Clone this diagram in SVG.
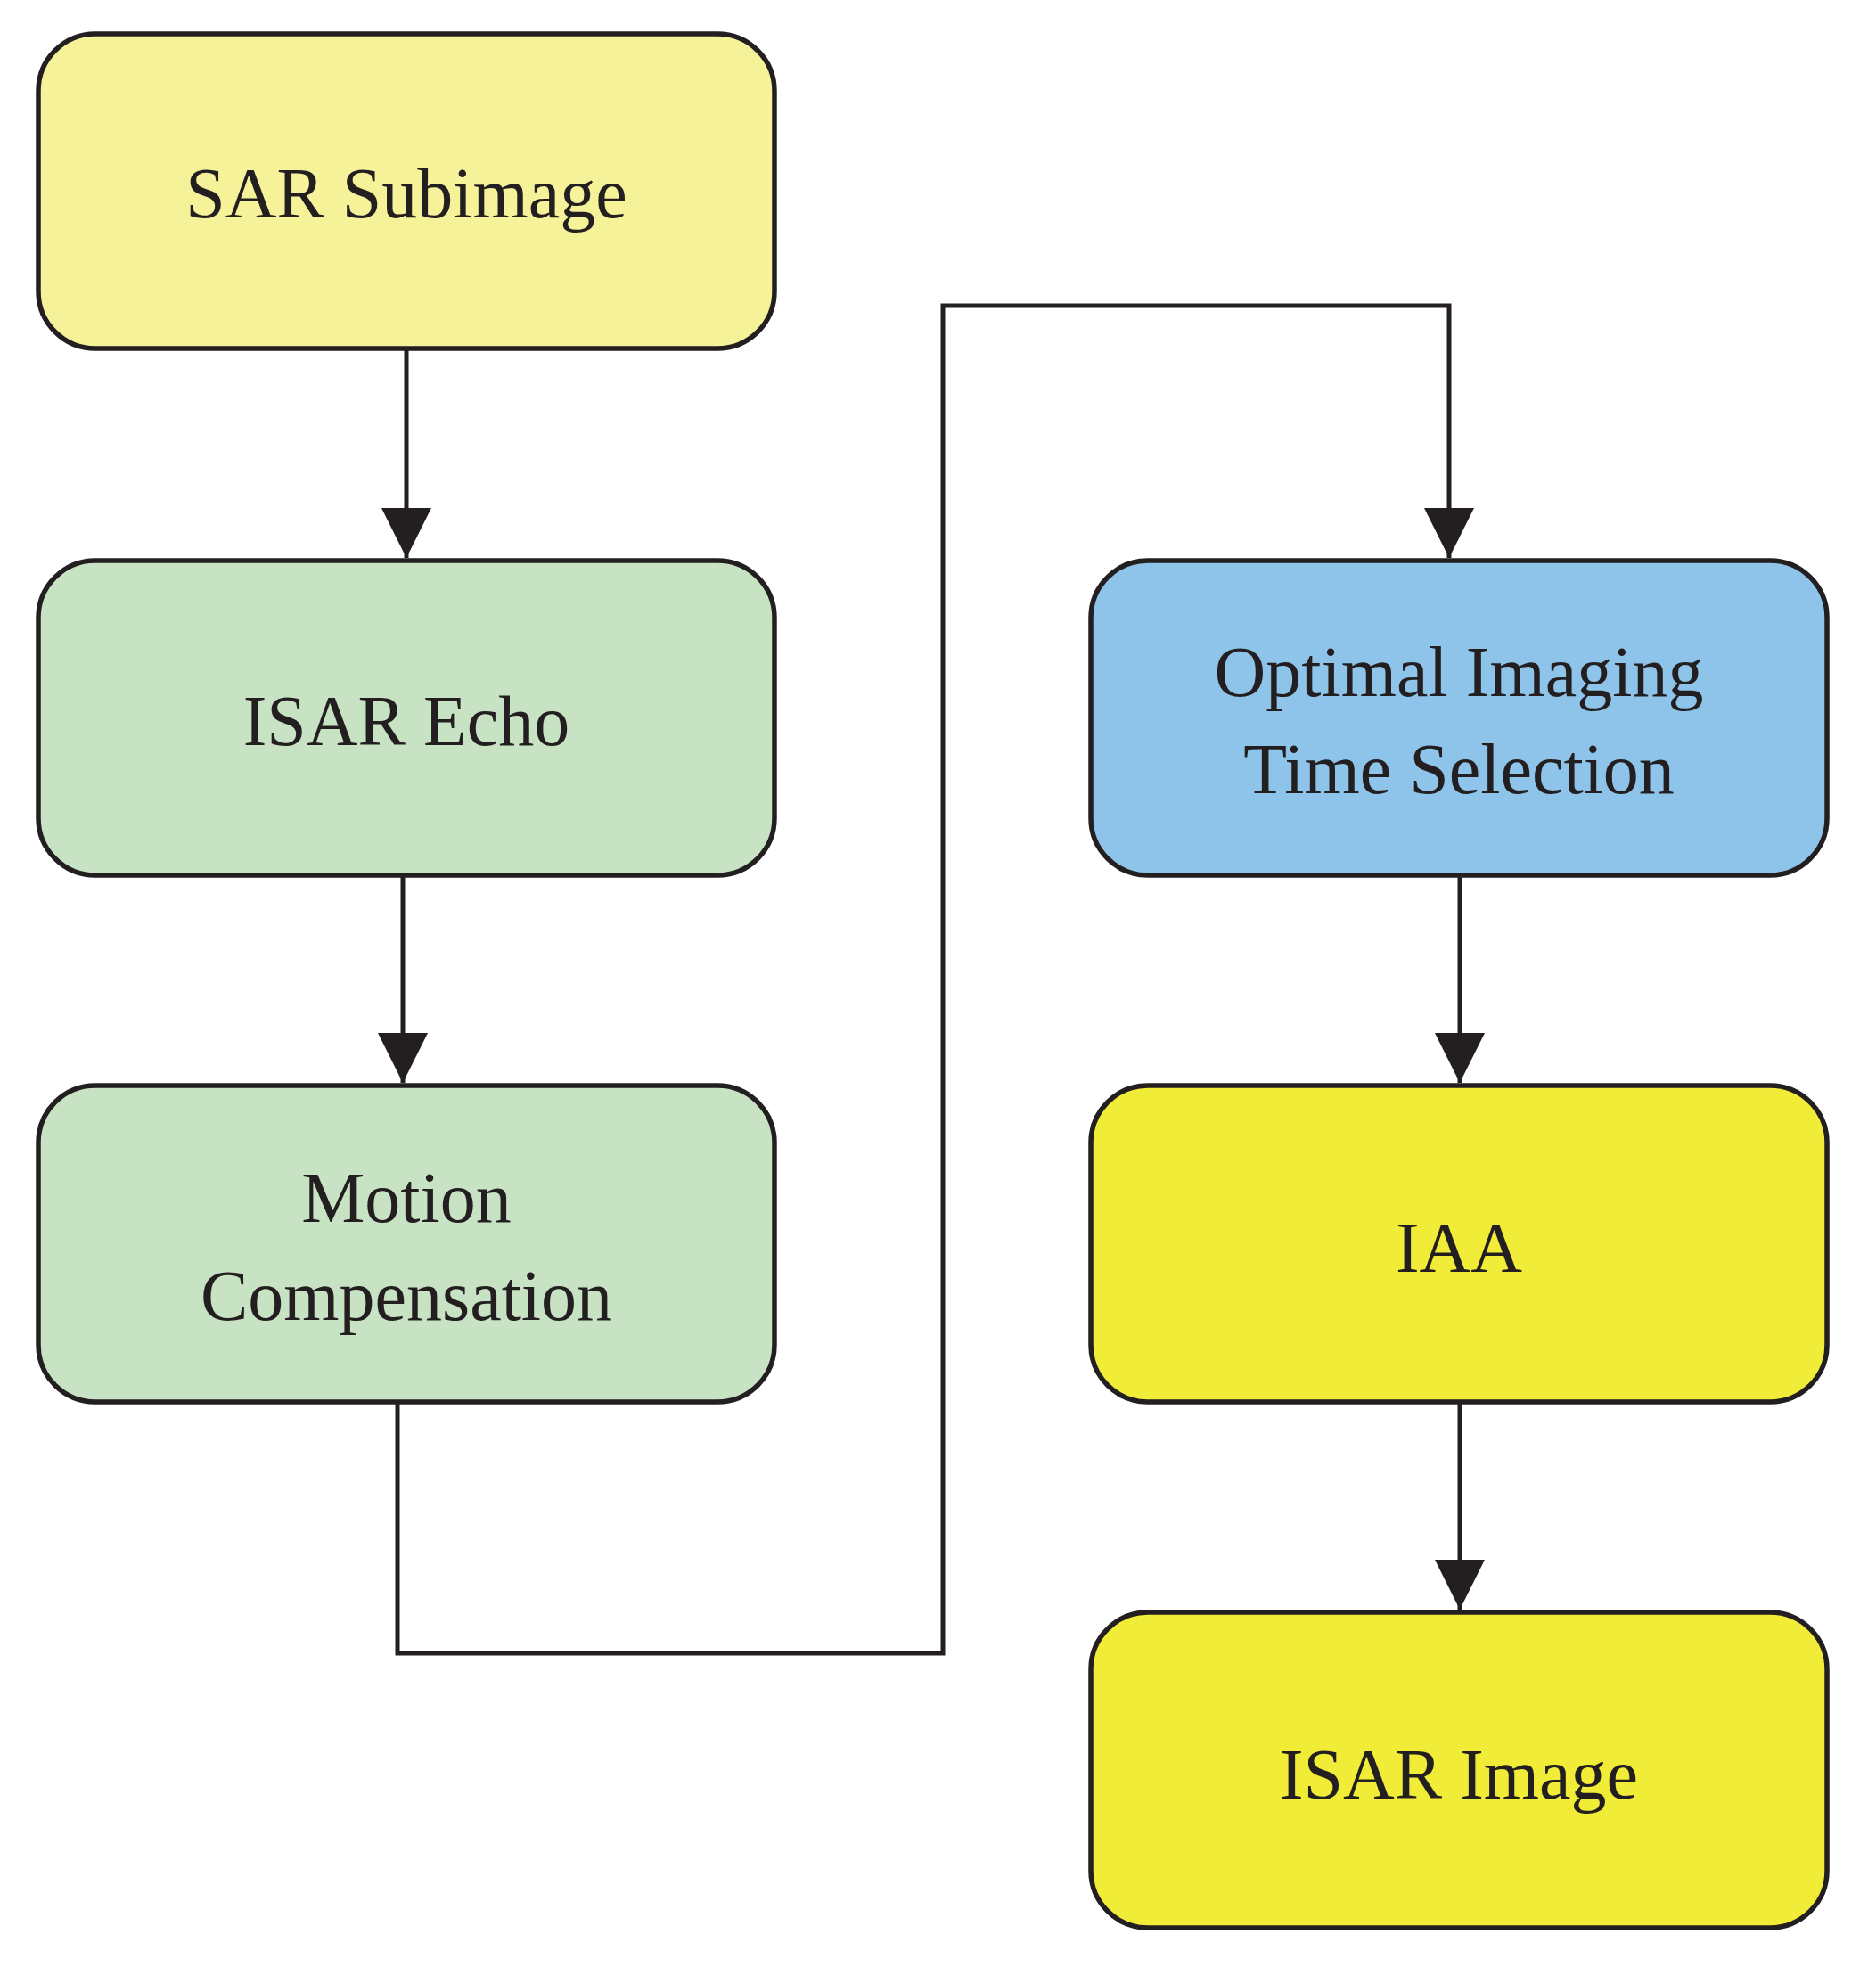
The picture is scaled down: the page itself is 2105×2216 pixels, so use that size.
<svg xmlns="http://www.w3.org/2000/svg" width="2105" height="2216" viewBox="0 0 2105 2216">
<style>
.b{stroke:#231F20;stroke-width:5.5}
.t{font-family:"Liberation Serif",serif;font-size:80px;fill:#231F20;text-anchor:middle}
.c{fill:none;stroke:#231F20;stroke-width:5}
</style>
<defs><marker id="a" markerUnits="userSpaceOnUse" markerWidth="60" markerHeight="80" refX="56" refY="28" orient="auto"><path d="M0,0 L56,28 L0,56 Z" fill="#231F20"/></marker></defs>
<rect width="2105" height="2216" fill="#fff"/>
<g id="n1"><rect class="b" x="43" y="38" width="826" height="353" rx="64" fill="#F5F29A"/><text class="t" x="456" y="244">SAR Subimage</text></g>
<g id="n2"><rect class="b" x="43" y="629" width="826" height="353" rx="64" fill="#C8E3C3"/><text class="t" x="456" y="836">ISAR Echo</text></g>
<g id="n3"><rect class="b" x="43" y="1218" width="826" height="355" rx="64" fill="#C8E3C3"/><text class="t" x="456" y="1371">Motion</text><text class="t" x="456" y="1481">Compensation</text></g>
<g id="n4"><rect class="b" x="1224" y="629" width="826" height="353" rx="64" fill="#8FC4EA"/><text class="t" x="1637" y="781">Optimal Imaging</text><text class="t" x="1637" y="890">Time Selection</text></g>
<g id="n5"><rect class="b" x="1224" y="1218" width="826" height="355" rx="64" fill="#F0EC37"/><text class="t" x="1637" y="1427">IAA</text></g>
<g id="n6"><rect class="b" x="1224" y="1809" width="826" height="354" rx="64" fill="#F0EC37"/><text class="t" x="1637" y="2018">ISAR Image</text></g>
<g id="connectors">
<path class="c" d="M456,391 V626" marker-end="url(#a)"/>
<path class="c" d="M452,982 V1215" marker-end="url(#a)"/>
<path class="c" d="M446,1573 V1855 H1058 V343 H1626 V626" marker-end="url(#a)"/>
<path class="c" d="M1638,982 V1215" marker-end="url(#a)"/>
<path class="c" d="M1638,1573 V1806" marker-end="url(#a)"/>
</g>
</svg>
